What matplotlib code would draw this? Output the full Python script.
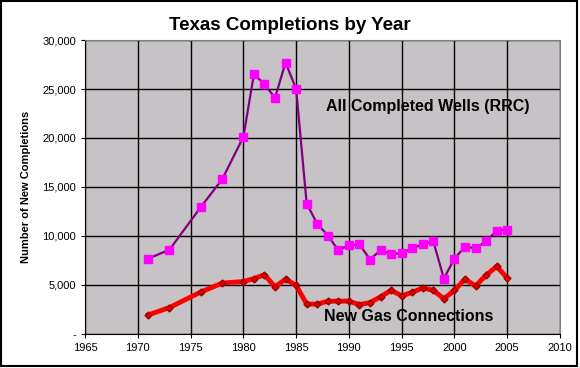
import matplotlib.pyplot as plt
import matplotlib.ticker as mticker
from matplotlib.patches import Rectangle

plt.rcParams['font.family'] = ['Liberation Sans', 'DejaVu Sans']

# all completed wells (RRC)
wells_years = [1971, 1973, 1976, 1978, 1980, 1981, 1982, 1983, 1984, 1985,
               1986, 1987, 1988, 1989, 1990, 1991, 1992, 1993, 1994, 1995,
               1996, 1997, 1998, 1999, 2000, 2001, 2002, 2003, 2004, 2005]
wells = [7700, 8600, 13000, 15800, 20100, 26500, 25500, 24100, 27700, 25000,
         13300, 11250, 10050, 8550, 9050, 9150, 7600, 8550, 8150, 8250,
         8750, 9150, 9450, 5650, 7700, 8900, 8750, 9450, 10550, 10650]

# new gas connections
gas_years = wells_years
gas = [1950, 2700, 4300, 5200, 5350, 5650, 6050, 4800, 5600, 4950,
       3050, 3050, 3350, 3350, 3350, 3000, 3200, 3800, 4450, 3900,
       4250, 4700, 4450, 3600, 4450, 5600, 4900, 6000, 6900, 5700]

fig = plt.figure(figsize=(5.8, 3.68), dpi=100)
ax = fig.add_axes([0.1466, 0.0924, 0.8189, 0.7989])
ax.set_facecolor('#c6c2c5')

ax.plot(wells_years, wells, color='#800080', linewidth=1.6, marker='s',
        markerfacecolor='#ff00ff', markeredgecolor='#ff00ff', markersize=5.5, zorder=3)
ax.plot(gas_years, gas, color='#ff0000', linewidth=3.5, marker='D',
        markerfacecolor='#e00000', markeredgecolor='#a00000', markersize=3.5, zorder=3)

ax.set_xlim(1965, 2010)
ax.set_ylim(0, 30000)
ax.set_xticks(range(1965, 2011, 5))
ax.set_yticks(range(0, 30001, 5000))
ax.yaxis.set_major_formatter(mticker.FuncFormatter(lambda v, p: '-' if v == 0 else f'{int(v):,}'))
ax.grid(True, color='black', linewidth=1)
ax.set_axisbelow(True)
ax.tick_params(labelsize=8, length=3, direction='out', colors='black')
for s in ['top', 'right']:
    ax.spines[s].set_color('#808080')

ax.set_ylabel('Number of New Completions', fontsize=8, fontweight='bold', labelpad=8)
fig.text(0.5, 0.93, 'Texas Completions by Year', ha='center', va='center',
         fontsize=13.5, fontweight='bold')

ax.text(1997.5, 23200, 'All Completed Wells (RRC)', ha='center', va='center',
        fontsize=11.5, fontweight='bold')
ax.text(1995.7, 1750, 'New Gas Connections', ha='center', va='center',
        fontsize=11.5, fontweight='bold')

fig.patches.append(Rectangle((0.002, 0.005), 0.993, 0.992, transform=fig.transFigure,
                             fill=False, edgecolor='black', linewidth=1.5))

fig.savefig('out.png', dpi=100)
